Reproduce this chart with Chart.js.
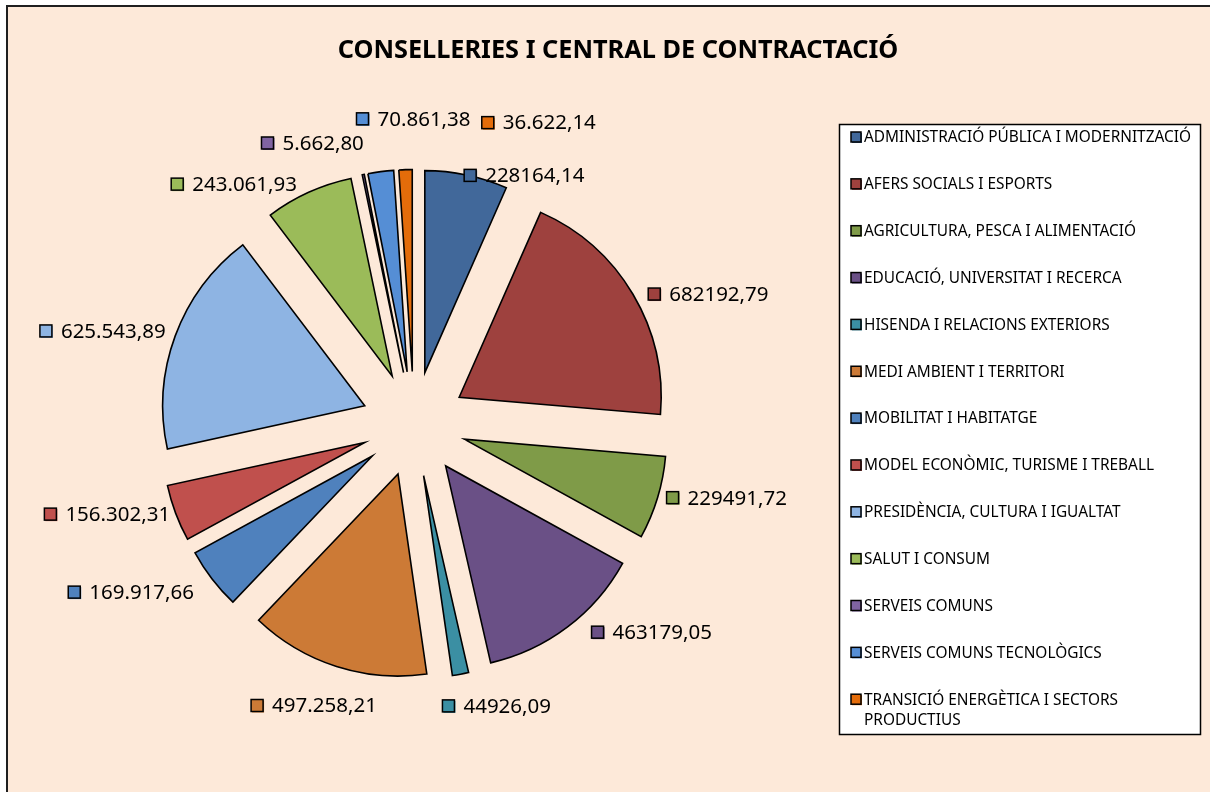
<!DOCTYPE html>
<html>
<head>
<meta charset="utf-8">
<script src="https://cdn.jsdelivr.net/npm/chart.js@4.4.1/dist/chart.umd.min.js"></script>
<style>
  html, body { margin: 0; padding: 0; background: #fff; }
  #pieChart { display: block; }
</style>
</head>
<body>
<canvas id="pieChart" width="1210" height="792" style="width:1210px;height:792px"></canvas>
<script>
const chartTitle = "CONSELLERIES I CENTRAL DE CONTRACTACIÓ";

const categories = [
    "ADMINISTRACIÓ PÚBLICA I MODERNITZACIÓ",
    "AFERS SOCIALS I ESPORTS",
    "AGRICULTURA, PESCA I ALIMENTACIÓ",
    "EDUCACIÓ, UNIVERSITAT I RECERCA",
    "HISENDA I RELACIONS EXTERIORS",
    "MEDI AMBIENT I TERRITORI",
    "MOBILITAT I HABITATGE",
    "MODEL ECONÒMIC, TURISME I TREBALL",
    "PRESIDÈNCIA, CULTURA I IGUALTAT",
    "SALUT I CONSUM",
    "SERVEIS COMUNS",
    "SERVEIS COMUNS TECNOLÒGICS",
    "TRANSICIÓ ENERGÈTICA I SECTORS PRODUCTIUS"
];

const amounts = [
    228164.14, 682192.79, 229491.72, 463179.05, 44926.09, 497258.21,
    169917.66, 156302.31, 625543.89, 243061.93, 5662.80, 70861.38, 36622.14
];

// labels exactly as printed on the chart (formats are mixed in the source)
const amountLabels = [
    "228164,14", "682192,79", "229491,72", "463179,05", "44926,09", "497.258,21",
    "169.917,66", "156.302,31", "625.543,89", "243.061,93", "5.662,80", "70.861,38", "36.622,14"
];

const sliceColors = [
    "#41689a", "#9e413e", "#7f9b48", "#6a5086", "#3b8fa3", "#cc7a36",
    "#4f81bd", "#c0504d", "#8eb4e3", "#9bbb59", "#8064a2", "#558ed5", "#e46c0a"
];

// hand tweaks so the value labels sit where the original put them
const labelNudge = [
    [43, 20], [15, 10], [2, -6], [42, -11], [24, 12], [-1, 20], [-24, 1],
    [-1, -6], [-5, 2], [-45, 10], [-39, -12], [41, -33], [135, -27]
];

const EXPLODE = 0.26;
const FONT = "'Noto Sans', 'Open Sans', sans-serif";

const background = {
    id: 'background',
    beforeDraw(chart) {
        const ctx = chart.ctx;
        ctx.save();
        ctx.fillStyle = '#ffffff';
        ctx.fillRect(0, 0, chart.width, chart.height);
        ctx.fillStyle = '#fde9d9';
        ctx.fillRect(7, 6, chart.width, chart.height);
        ctx.strokeStyle = '#1f1f1f';
        ctx.lineWidth = 2;
        ctx.strokeRect(7, 6, chart.width + 20, chart.height + 20);
        ctx.restore();
    }
};

// pull every slice out from the centre by the same distance
const explode = {
    id: 'explode',
    beforeDatasetDraw(chart, args) {
        const ctx = chart.ctx;
        args.meta.data.forEach(function (arc) {
            const mid = (arc.startAngle + arc.endAngle) / 2;
            const d = arc.outerRadius * EXPLODE;
            ctx.save();
            ctx.translate(Math.cos(mid) * d, Math.sin(mid) * d);
            arc.draw(ctx);
            ctx.restore();
        });
        return false;
    }
};

function swatch(ctx, x, y, size, color) {
    ctx.fillStyle = color;
    ctx.fillRect(x + 1, y + 1, size, size);
    ctx.fillRect(x, y, size, size);
    ctx.strokeStyle = '#000';
    ctx.lineWidth = 1.5;
    ctx.strokeRect(x, y, size, size);
}

const valueLabels = {
    id: 'valueLabels',
    afterDraw(chart) {
        const ctx = chart.ctx;
        const meta = chart.getDatasetMeta(0);
        ctx.save();
        ctx.font = "20.5px " + FONT;
        ctx.textBaseline = 'middle';
        ctx.textAlign = 'left';
        meta.data.forEach(function (arc, i) {
            const mid = (arc.startAngle + arc.endAngle) / 2;
            const dx = Math.cos(mid), dy = Math.sin(mid);
            const dist = arc.outerRadius * (1 + EXPLODE) + 10;
            const px = arc.x + dx * dist, py = arc.y + dy * dist;
            const text = amountLabels[i];
            const w = 12 + 8 + ctx.measureText(text).width;
            const h = 20;
            const left = px + (dx - 1) * w / 2 + labelNudge[i][0];
            const yc = py + dy * h / 2 + labelNudge[i][1];
            swatch(ctx, left, yc - 6, 12, sliceColors[i]);
            ctx.fillStyle = '#000';
            ctx.fillText(text, left + 21, yc + 1);
        });
        ctx.restore();
    }
};

function wrapWords(ctx, text, maxW) {
    const words = text.split(' ');
    const lines = [];
    let line = '';
    words.forEach(function (w) {
        const test = line ? line + ' ' + w : w;
        if (line && ctx.measureText(test).width > maxW) {
            lines.push(line);
            line = w;
        } else {
            line = test;
        }
    });
    lines.push(line);
    return lines;
}

const boxLegend = {
    id: 'boxLegend',
    afterDraw(chart) {
        const ctx = chart.ctx;
        const labels = chart.data.labels;
        const colors = chart.data.datasets[0].backgroundColor;
        ctx.save();
        ctx.fillStyle = '#fff';
        ctx.fillRect(839, 124, 361, 610);
        ctx.strokeStyle = '#000';
        ctx.lineWidth = 1.5;
        ctx.strokeRect(839.5, 124.5, 361, 610);
        ctx.font = "15.4px " + FONT;
        ctx.textBaseline = 'middle';
        ctx.textAlign = 'left';
        labels.forEach(function (lab, i) {
            const y = 137 + i * 46.85;
            swatch(ctx, 851, y - 5, 10, colors[i]);
            ctx.fillStyle = '#000';
            const lines = wrapWords(ctx, lab, 336);
            lines.forEach(function (ln, k) {
                ctx.fillText(ln, 864, y + 1 + k * 20);
            });
        });
        ctx.restore();
    }
};

const titleText = {
    id: 'titleText',
    afterDraw(chart) {
        const ctx = chart.ctx;
        ctx.save();
        ctx.font = "bold 25.3px " + FONT;
        ctx.fillStyle = '#000';
        ctx.textAlign = 'center';
        ctx.textBaseline = 'middle';
        ctx.fillText(chartTitle, 618, 51);
        ctx.restore();
    }
};

new Chart(document.getElementById('pieChart'), {
    type: 'pie',
    data: {
        labels: categories,
        datasets: [{
            data: amounts,
            backgroundColor: sliceColors,
            borderColor: '#000',
            borderWidth: 1.6,
            borderJoinStyle: 'miter'
        }]
    },
    options: {
        responsive: false,
        animation: false,
        events: [],
        radius: 202,
        layout: { padding: { left: 0, right: 382, top: 56, bottom: 0 } },
        plugins: {
            legend: { display: false },
            tooltip: { enabled: false },
            title: { display: false }
        }
    },
    plugins: [background, explode, valueLabels, boxLegend, titleText]
});
</script>
</body>
</html>
